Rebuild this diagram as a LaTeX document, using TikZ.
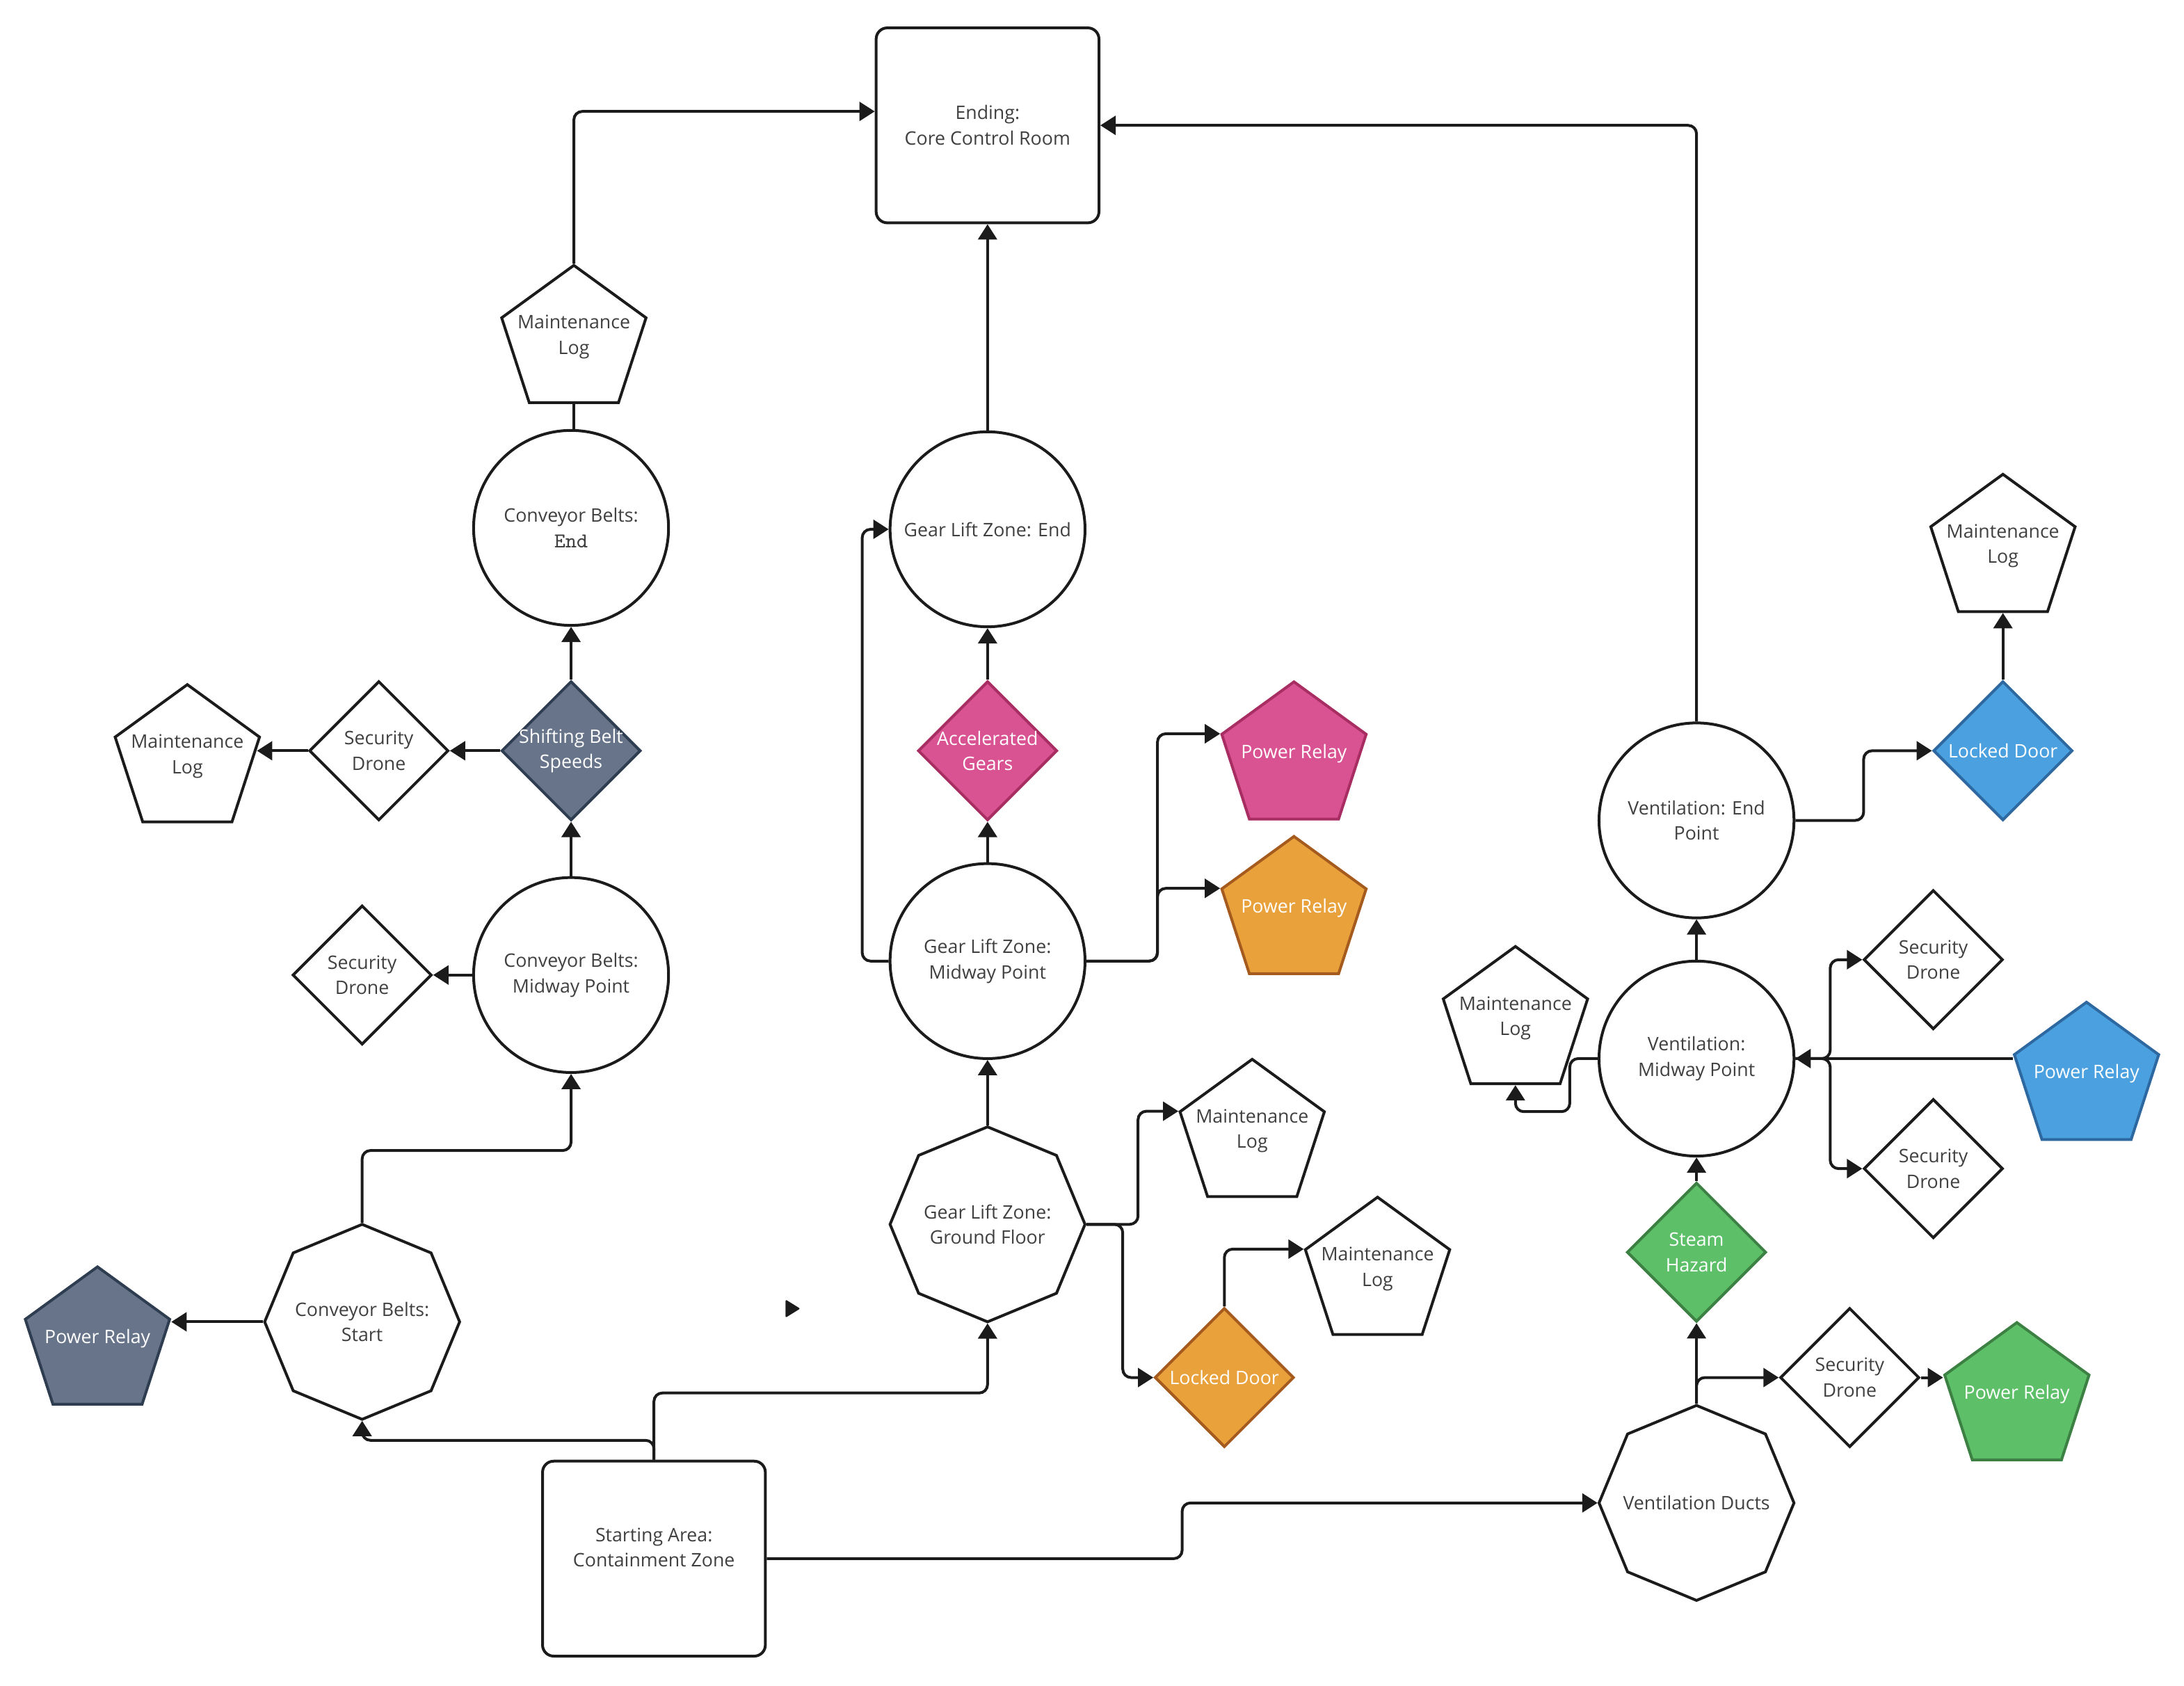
\documentclass[tikz,border=0pt]{standalone}
\usepackage{fontspec}
\setmainfont{Open Sans}
\usetikzlibrary{arrows.meta,shapes.geometric,calc}
\definecolor{ink}{HTML}{1B1B1B}
\definecolor{txtgray}{HTML}{404040}
\definecolor{slatefill}{HTML}{677489}
\definecolor{slateline}{HTML}{2F3D51}
\definecolor{pinkfill}{HTML}{D95392}
\definecolor{pinkline}{HTML}{A82D62}
\definecolor{orangefill}{HTML}{E8A13B}
\definecolor{orangeline}{HTML}{A65B1E}
\definecolor{bluefill}{HTML}{4BA0E0}
\definecolor{blueline}{HTML}{2D68A0}
\definecolor{greenfill}{HTML}{5DBF68}
\definecolor{greenline}{HTML}{3C8043}
\tikzset{
  base/.style={draw=ink, line width=0.04cm, fill=white, text=txtgray, align=center, inner sep=0pt},
  roundbox/.style={base, rectangle, rounded corners=0.16cm, minimum width=3.2cm, minimum height=2.8cm},
  circ/.style={base, circle, minimum size=2.8cm},
  octa/.style={base, regular polygon, regular polygon sides=8, shape border rotate=22.5, minimum size=2.8cm},
  pent/.style={base, regular polygon, regular polygon sides=5, minimum size=2.18cm},
  dia/.style={base, diamond, minimum width=2cm, minimum height=2cm},
  ptxt/.style={text=txtgray, align=center, yshift=0.06cm},
  dtxt/.style={text=txtgray, align=center},
  wtxt/.style={text=white},
  slate/.style={fill=slatefill, draw=slateline},
  pinkc/.style={fill=pinkfill, draw=pinkline},
  orangec/.style={fill=orangefill, draw=orangeline},
  bluec/.style={fill=bluefill, draw=blueline},
  greenc/.style={fill=greenfill, draw=greenline},
  conn/.style={draw=ink, line width=0.04cm, rounded corners=0.12cm},
  arr/.style={conn, -{Triangle[length=0.22cm, width=0.27cm]}},
}
\begin{document}
\begin{tikzpicture}[x=0.02cm, y=-0.02cm, font=\fontsize{7.6}{10.4}\selectfont]
\useasboundingbox (0,0) rectangle (1568,1210);

% main boxes
\node[roundbox] (end) at (709,90) {Ending:\\Core Control Room};
\node[roundbox, label={[dtxt, yshift=0.16cm]center:{Starting Area:\\Containment Zone}}] (start) at (469.5,1119) {};

% circles
\node[circ] (cbe) at (410,379) {Conveyor Belts:\\{\ttfamily\fontsize{8.6}{10.4}\selectfont End}};
\node[circ] (cbm) at (410,700) {Conveyor Belts:\\Midway Point};
\node[circ] (gle) at (709,380) {Gear Lift Zone: End};
\node[circ] (glm) at (709,690) {Gear Lift Zone:\\Midway Point};
\node[circ] (ve) at (1218,589) {Ventilation: End\\Point};
\node[circ] (vm) at (1218,760) {Ventilation:\\Midway Point};

% octagons
\node[octa, label={[dtxt]center:{Conveyor Belts:\\Start}}] (cbs) at (260,949) {};
\node[octa, label={[dtxt]center:{Gear Lift Zone:\\Ground Floor}}] (glgf) at (709,879) {};
\node[octa, label={[dtxt]center:Ventilation Ducts}] (vd) at (1218,1079) {};

% pentagons
\node[pent, label={[ptxt]center:{Maintenance\\Log}}] (ml1) at (412,245) {};
\node[pent, label={[ptxt]center:{Maintenance\\Log}}] (ml2) at (134.5,546) {};
\node[pent, label={[ptxt]center:{Maintenance\\Log}}] (ml3) at (899,815) {};
\node[pent, label={[ptxt]center:{Maintenance\\Log}}] (ml4) at (989,914) {};
\node[pent, label={[ptxt]center:{Maintenance\\Log}}] (ml5) at (1088,734) {};
\node[pent, label={[ptxt]center:{Maintenance\\Log}}] (ml6) at (1438,395) {};
\node[pent, slate, label={[ptxt,wtxt]center:Power Relay}] (pr1) at (70,964) {};
\node[pent, pinkc, label={[ptxt,wtxt]center:Power Relay}] (pr2) at (929,544) {};
\node[pent, orangec, label={[ptxt,wtxt]center:Power Relay}] (pr3) at (929,655) {};
\node[pent, greenc, label={[ptxt,wtxt]center:Power Relay}] (pr4) at (1448,1004) {};
\node[pent, bluec, label={[ptxt,wtxt]center:Power Relay}] (pr5) at (1498,774) {};

% diamonds
\node[dia, slate, label={[dtxt,wtxt]center:{Shifting Belt\\Speeds}}] (sbs) at (410,539) {};
\node[dia, label={[dtxt]center:{Security\\Drone}}] (sd1) at (272,539) {};
\node[dia, label={[dtxt]center:{Security\\Drone}}] (sd0) at (260,700) {};
\node[dia, pinkc, label={[dtxt,wtxt]center:{Accelerated\\Gears}}] (ag) at (709,539) {};
\node[dia, orangec, label={[dtxt,wtxt]center:Locked Door}] (ld1) at (879,989) {};
\node[dia, greenc, label={[dtxt,wtxt]center:{Steam\\Hazard}}] (sh) at (1218,899) {};
\node[dia, label={[dtxt]center:{Security\\Drone}}] (sd3) at (1328,989) {};
\node[dia, label={[dtxt]center:{Security\\Drone}}] (sd4) at (1388,689) {};
\node[dia, label={[dtxt]center:{Security\\Drone}}] (sd5) at (1388,839) {};
\node[dia, bluec, label={[dtxt,wtxt]center:Locked Door}] (ld2) at (1438,539) {};

% connectors: conveyor side
\draw[arr] (start.north) |- ($(cbs.south)+(0,14)$) -- (cbs.south);
\draw[arr] (start.north) |- ($(glgf.south)+(0,50)$) -- (glgf.south);
\draw[arr] (start.east) -| ($(start.east)!.5!(vd.west)$) |- (vd.west);
\draw[arr] (cbs.west) -- (cbs.west -| pr1.corner 5);
\draw[arr] (cbs.north) |- ($(cbm.south)+(0,55)$) -- (cbm.south);
\draw[arr] (cbm.west) -- (sd0.east);
\draw[arr] (cbm.north) -- (sbs.south);
\draw[arr] (sbs.west) -- (sd1.east);
\draw[arr] (sd1.west) -- ([xshift=-0.06cm]sd1.west -| ml2.corner 5);
\draw[arr] (sbs.north) -- (cbe.south);
\draw[conn] (ml1.south |- cbe.north) -- (ml1.south);
\draw[arr] (ml1.north) |- ($(end.west)+(0,-10)$);

% gear lift side
\draw[arr] (glgf.north) -- (glm.south);
\draw[arr] (glgf.east) -- ++(37,0) |- (ml3.corner 2);
\draw[arr] (glgf.east) -- ++(26,0) |- (ld1.west);
\draw[arr] (ld1.north) |- (ml4.corner 2);
\draw[arr] (glm.west) -- ++(-19,0) |- (gle.west);
\draw[arr] (glm.north) -- (ag.south);
\draw[arr] (ag.north) -- (gle.south);
\draw[arr] (glm.east) -- ++(51,0) |- (pr2.corner 2);
\draw[arr] (glm.east) -- ++(51,0) |- (pr3.corner 2);
\draw[arr] (gle.north) -- (end.south);

% ventilation side
\draw[arr] (vd.north) -- (sh.south);
\draw[arr] (vd.north) |- (sd3.west);
\draw[arr] (sd3.east) -- (sd3.east -| pr4.corner 2);
\draw[arr] (sh.north) -- (vm.south);
\draw[arr] (vm.west) -- ++(-20,0) |- ($(ml5.south)+(0,19)$) -- (ml5.south);
\draw[arr] (vm.north) -- (ve.south);
\draw[arr] (vm.east -| pr5.corner 2) -- (vm.east);
\draw[arr] (vm.east) -- ++(25,0) |- (sd4.west);
\draw[arr] (vm.east) -- ++(25,0) |- (sd5.west);
\draw[arr] (ve.east) -| ($(ve.east)!.5!(ld2.west)$) |- (ld2.west);
\draw[arr] (ld2.north) -- (ml6.south);
\draw[arr] (ve.north) |- (end.east);

% stray arrow head
\fill[ink, rounded corners=0.02cm] (564,933) -- (574.5,939.5) -- (564,946) -- cycle;
\end{tikzpicture}
\end{document}
